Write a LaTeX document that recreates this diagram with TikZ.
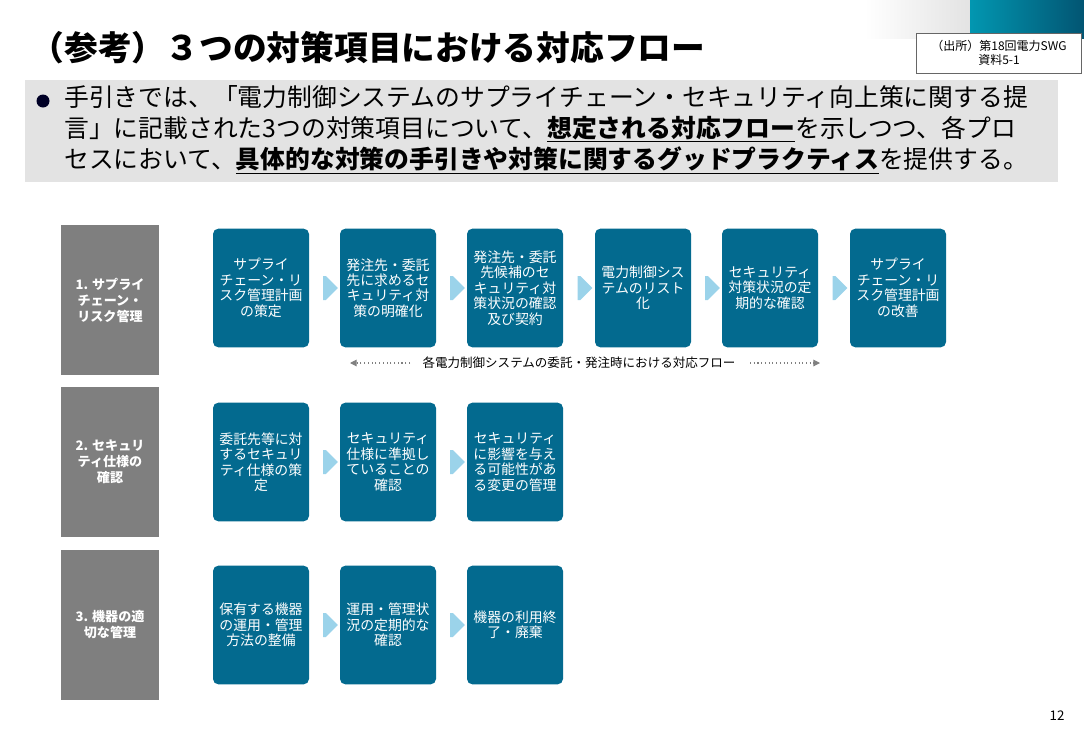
\documentclass[tikz,border=0pt]{standalone}
\usepackage{fontspec}
\setmainfont{Noto Sans CJK JP}
\usetikzlibrary{shapes.arrows,positioning,arrows.meta}
\definecolor{boxblue}{HTML}{036A8F}
\definecolor{arrowblue}{HTML}{9BD3EA}
\definecolor{labelgray}{HTML}{7F7F7F}
\definecolor{bandgray}{HTML}{E3E3E3}
\begin{document}
\begin{tikzpicture}[x=0.75pt,y=-0.75pt,
           step_style/.style={rectangle,rounded corners=4pt,fill=boxblue,text=white,minimum width=72pt,minimum height=89pt,align=center,font=\fontsize{10.4}{11.6}\selectfont,inner sep=1pt},
           cat_style/.style={rectangle,fill=labelgray,text=white,minimum width=73.5pt,minimum height=112pt,align=center,font=\bfseries\fontsize{9.8}{12}\selectfont},
           flow_arrow/.style={single arrow,fill=arrowblue,minimum height=11pt,minimum width=18pt,single arrow head extend=0pt,inner sep=0pt}]
\useasboundingbox (0,0) rectangle (1084,750);
% header decoration
\shade[left color=white,right color=bandgray] (865,0) rectangle (970,38);
\shade[left color=boxblue!70!cyan,right color=boxblue!80!black] (970,0) rectangle (1084,38);
\node[draw=black!60,fill=white,minimum width=124pt,minimum height=30pt,align=center,font=\fontsize{9}{10.5}\selectfont,inner sep=1pt] (src) at (999,53) {（出所）第18回電力SWG\\資料5-1};
\node[anchor=west,font=\bfseries\fontsize{25.3}{28}\selectfont] (title) at (26,48) {（参考）３つの対策項目における対応フロー};
% bullet text
\fill[bandgray] (25,80) rectangle (1058,182);
\fill[black!85!blue] (43,101) circle (6.5);
\node[anchor=north west,align=left,font=\fontsize{18.6}{23.3}\selectfont,inner sep=0pt] (intro) at (64,85)
  {手引きでは、「電力制御システムのサプライチェーン・セキュリティ向上策に関する提\\
   言」に記載された3つの対策項目について、\underline{\textbf{想定される対応フロー}}を示しつつ、各プロ\\
   セスにおいて、\underline{\textbf{具体的な対策の手引きや対策に関するグッドプラクティス}}を提供する。};
% categories
\node[cat_style] (c1) at (110,300) {1. サプライ\\チェーン・\\リスク管理};
\node[cat_style] (c2) at (110,462) {2. セキュリ\\ティ仕様の\\確認};
\node[cat_style] (c3) at (110,625) {3. 機器の適\\切な管理};
% row 1
\node[step_style] (s11) at (261,288) {サプライ\\チェーン・リ\\スク管理計画\\の策定};
\node[step_style] (s12) at (388,288) {発注先・委託\\先に求めるセ\\キュリティ対\\策の明確化};
\node[step_style] (s13) at (515,288) {発注先・委託\\先候補のセ\\キュリティ対\\策状況の確認\\及び契約};
\node[step_style] (s14) at (643,288) {電力制御シス\\テムのリスト\\化};
\node[step_style] (s15) at (770,288) {セキュリティ\\対策状況の定\\期的な確認};
\node[step_style] (s16) at (898,288) {サプライ\\チェーン・リ\\スク管理計画\\の改善};
% row 2
\node[step_style] (s21) at (261,462) {委託先等に対\\するセキュリ\\ティ仕様の策\\定};
\node[step_style] (s22) at (388,462) {セキュリティ\\仕様に準拠し\\ていることの\\確認};
\node[step_style] (s23) at (515,462) {セキュリティ\\に影響を与え\\る可能性があ\\る変更の管理};
% row 3
\node[step_style] (s31) at (261,625) {保有する機器\\の運用・管理\\方法の整備};
\node[step_style] (s32) at (388,625) {運用・管理状\\況の定期的な\\確認};
\node[step_style] (s33) at (515,625) {機器の利用終\\了・廃棄};
% flow arrows
\foreach \a/\b in {s11/s12,s12/s13,s13/s14,s14/s15,s15/s16,s21/s22,s22/s23,s31/s32,s32/s33}
  \path (\a) -- node[flow_arrow]{} (\b);
% scope note
\node[font=\fontsize{9.4}{11}\selectfont] (scope) at (579,363) {各電力制御システムの委託・発注時における対応フロー};
\coordinate (sl) at (350,363);
\coordinate (sr) at (820,363);
\draw[gray,dotted,thick,-{Triangle[width=5pt,length=5pt]}] (410,363) -- (sl);
\draw[gray,dotted,thick,-{Triangle[width=5pt,length=5pt]}] (750,363) -- (sr);
\node[font=\fontsize{10}{12}\selectfont] (page) at (1057,716) {12};
\end{tikzpicture}
\end{document}
